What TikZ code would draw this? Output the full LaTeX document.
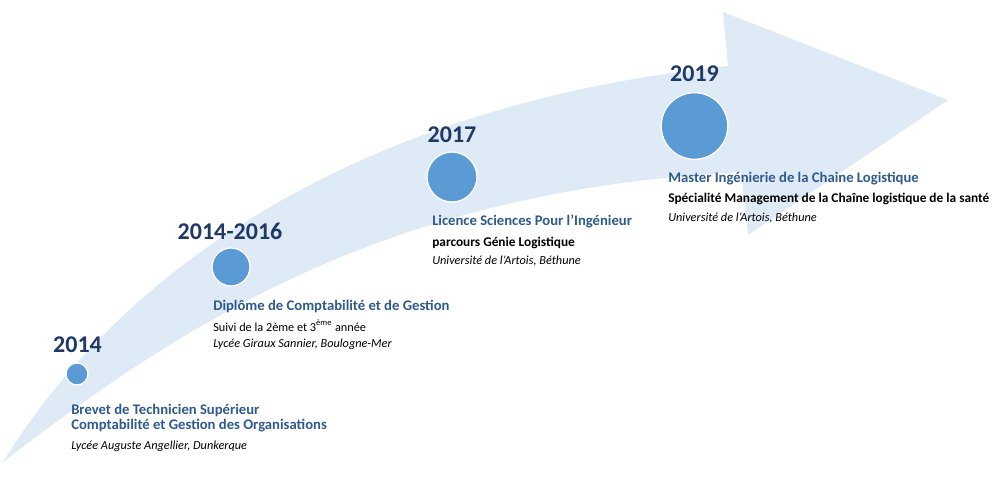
\documentclass[tikz,border=0pt]{standalone}
\usepackage{fontspec}
\setmainfont{Carlito}

\definecolor{bandblue}{HTML}{DEEAF6}
\definecolor{dotblue}{HTML}{5B9BD5}
\definecolor{yearnavy}{HTML}{203864}
\definecolor{titleblue}{HTML}{2E5A8C}

\tikzset{
  year/.style={inner sep=0pt, text=yearnavy, font=\bfseries\fontsize{18}{20}\selectfont},
  dot/.style={circle, fill=dotblue, draw=white, line width=1pt, inner sep=0pt},
  title/.style={anchor=base west, inner sep=0pt, text=titleblue, font=\bfseries\fontsize{11}{13}\selectfont},
  detail/.style={anchor=base west, inner sep=0pt, font=\fontsize{9.2}{11}\selectfont},
  boldline/.style={anchor=base west, inner sep=0pt, font=\bfseries\fontsize{10}{12}\selectfont},
  school/.style={anchor=base west, inner sep=0pt, font=\itshape\fontsize{9.2}{11}\selectfont}
}

\begin{document}
\begin{tikzpicture}[x=0.75pt,y=-0.75pt]
\useasboundingbox (0,0) rectangle (1000,500);

% curved arrow
\fill[bandblue] (3,462) .. controls (140,240) and (400,100) .. (728,66)
  -- (723,12) -- (948,100) -- (748,235) -- (741,172)
  .. controls (400,190) and (200,310) .. (3,462) -- cycle;

% dots
\node[dot, minimum size=16.5pt] (d1) at (77,374) {};
\node[dot, minimum size=28.5pt] (d2) at (231,267) {};
\node[dot, minimum size=37.5pt] (d3) at (452,177) {};
\node[dot, minimum size=50pt] (d4) at (694.5,126) {};

% years
\node[year] (y1) at (77.5,344.5) {2014};
\node[year] (y2) at (230,231) {2014-2016};
\node[year] (y3) at (452,134.5) {2017};
\node[year] (y4) at (694.5,74) {2019};

% 2014
\node[title] (t1a) at (71,414) {Brevet de Technicien Supérieur};
\node[title] (t1b) at (71,429) {Comptabilité et Gestion des Organisations};
\node[school] (s1) at (71,449) {Lycée Auguste Angellier, Dunkerque};

% 2014-2016
\node[title] (t2) at (213,310) {Diplôme de Comptabilité et de Gestion};
\node[detail] (x2) at (213,331) {Suivi de la 2ème et 3\textsuperscript{ème} année};
\node[school] (s2) at (213,347) {Lycée Giraux Sannier, Boulogne-Mer};

% 2017
\node[title] (t3) at (432,225) {Licence Sciences Pour l’Ingénieur};
\node[boldline] (x3) at (432,246) {parcours Génie Logistique};
\node[school] (s3) at (432,264) {Université de l’Artois, Béthune};

% 2019
\node[title] (t4) at (668,182) {Master Ingénierie de la Chaine Logistique};
\node[boldline] (x4) at (668,202) {Spécialité Management de la Chaîne logistique de la santé};
\node[school] (s4) at (668,221) {Université de l’Artois, Béthune};
\end{tikzpicture}
\end{document}
